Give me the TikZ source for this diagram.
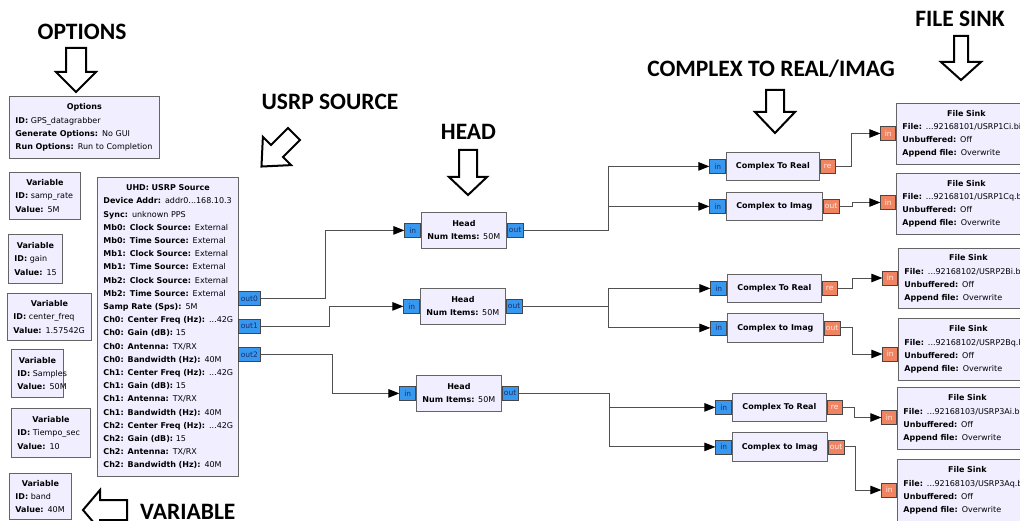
\documentclass[tikz,border=0pt]{standalone}
\usepackage{fontspec}
\setmainfont{DejaVu Sans}
\newfontfamily\calloutfont{Carlito}
\usetikzlibrary{arrows.meta}

\definecolor{blockfill}{RGB}{241,238,255}
\definecolor{blockedge}{RGB}{100,100,100}
\definecolor{cplxport}{RGB}{56,152,240}
\definecolor{cplxtext}{RGB}{25,45,105}
\definecolor{floatport}{RGB}{240,132,98}
\definecolor{floattext}{RGB}{255,238,228}
\definecolor{wirecol}{RGB}{80,80,80}

% block title (centred) and "key: value" parameter line
\newcommand\ttl[1]{{\centering\bfseries #1\par}}
\newcommand\kv[2]{\mbox{\textbf{#1:} #2}}
% hollow outlined arrow: base x, base y, rotation, shaft length, head length, shaft half-width, head half-width
\newcommand\callout[7]{\draw[callout, shift={(#1,#2)}, rotate=#3] (0,-#6) -- (#4,-#6) -- (#4,-#7) -- ({#4+#5},0) -- (#4,#7) -- (#4,#6) -- (0,#6) -- cycle;}

\tikzset{
  blk/.style={draw=blockedge, fill=blockfill, line width=0.8pt, anchor=north west,
    inner xsep=6pt, inner ysep=0pt, font=\fontsize{8}{13.2}\selectfont, align=left},
  oneline/.style={draw=blockedge, fill=blockfill, line width=0.8pt, anchor=north west,
    inner sep=0pt, font=\fontsize{8}{13.2}\selectfont\bfseries, align=center},
  cport/.style={draw=blockedge!70!black, fill=cplxport, text=cplxtext, line width=0.6pt,
    inner sep=0pt, minimum height=14pt, font=\fontsize{7.5}{9}\selectfont},
  fport/.style={draw=blockedge!70!black, fill=floatport, text=floattext, line width=0.6pt,
    inner sep=0pt, minimum height=14pt, font=\fontsize{7.5}{9}\selectfont},
  wire/.style={draw=wirecol, line width=0.9pt},
  feed/.style={wire, -{Triangle[length=11pt,width=8.5pt,color=black]}},
  callout/.style={draw=black, fill=white, line width=2pt, line join=miter},
  caption/.style={font=\calloutfont\bfseries\fontsize{23.5}{26}\selectfont, anchor=base, inner sep=0pt},
}

\begin{document}
\begin{tikzpicture}[x=1pt,y=-1pt]
\useasboundingbox (0,0) rectangle (1020,521);
\fill[white] (0,0) rectangle (1020,521);
\clip (0,0) rectangle (1020,521);

% ---------- captions and pointer arrows ----------
\node[caption] (capopt) at (82,40) {OPTIONS};
\node[caption] (capusrp) at (330,110) {USRP SOURCE};
\node[caption] (caphead) at (468.5,140) {HEAD};
\node[caption] (capcplx) at (771,77) {COMPLEX TO REAL/IMAG};
\node[caption] (capfile) at (960,27) {FILE SINK};
\node[caption, anchor=base west] (capvar) at (140,519) {VARIABLE};

\callout{76}{48}{-90}{24}{20}{10}{20}
\callout{468}{150}{-90}{27}{18}{9}{19}
\callout{775}{90}{-90}{22}{21}{9}{20}
\callout{961}{36}{-90}{26}{18}{7}{20}
\callout{127}{510}{180}{27}{17}{10}{20}
\callout{294}{134}{-135}{24}{22}{8.5}{20}

% ---------- options and variables ----------
\node[blk, text width=138pt, minimum height=62pt] (opt) at (9,96)
  {\ttl{Options}\kv{ID}{GPS\_datagrabber}\\\kv{Generate Options}{No GUI}\\\kv{Run Options}{Run to Completion}};
\node[blk, text width=59pt, minimum height=47pt] (vrate) at (9,172)
  {\ttl{Variable}\kv{ID}{samp\_rate}\\\kv{Value}{5M}};
\node[blk, text width=42pt, minimum height=49pt] (vgain) at (8,234)
  {\ttl{Variable}\kv{ID}{gain}\\\kv{Value}{15}};
\node[blk, text width=72pt, minimum height=47pt] (vfreq) at (7,293)
  {\ttl{Variable}\kv{ID}{center\_freq}\\\kv{Value}{1.57542G}};
\node[blk, text width=40pt, minimum height=48pt] (vsamp) at (11,349)
  {\ttl{Variable}\kv{ID}{Samples}\\\kv{Value}{50M}};
\node[blk, text width=67pt, minimum height=49pt] (vtime) at (11,408)
  {\ttl{Variable}\kv{ID}{Tiempo\_sec}\\\kv{Value}{10}};
\node[blk, text width=50pt, minimum height=46pt] (vband) at (9,473)
  {\ttl{Variable}\kv{ID}{band}\\\kv{Value}{40M}};

% ---------- USRP source ----------
\node[blk, text width=129pt, minimum height=299pt] (usrp) at (97,177)
  {\ttl{UHD: USRP Source}\kv{Device Addr}{addr0...168.10.3}\\\kv{Sync}{unknown PPS}\\
   \kv{Mb0: Clock Source}{External}\\\kv{Mb0: Time Source}{External}\\
   \kv{Mb1: Clock Source}{External}\\\kv{Mb1: Time Source}{External}\\
   \kv{Mb2: Clock Source}{External}\\\kv{Mb2: Time Source}{External}\\
   \kv{Samp Rate (Sps)}{5M}\\
   \kv{Ch0: Center Freq (Hz)}{...42G}\\\kv{Ch0: Gain (dB)}{15}\\\kv{Ch0: Antenna}{TX/RX}\\\kv{Ch0: Bandwidth (Hz)}{40M}\\
   \kv{Ch1: Center Freq (Hz)}{...42G}\\\kv{Ch1: Gain (dB)}{15}\\\kv{Ch1: Antenna}{TX/RX}\\\kv{Ch1: Bandwidth (Hz)}{40M}\\
   \kv{Ch2: Center Freq (Hz)}{...42G}\\\kv{Ch2: Gain (dB)}{15}\\\kv{Ch2: Antenna}{TX/RX}\\\kv{Ch2: Bandwidth (Hz)}{40M}};
\node[cport, minimum width=22pt, anchor=west] (u0) at (238,298.5) {out0};
\node[cport, minimum width=22pt, anchor=west] (u1) at (238,326) {out1};
\node[cport, minimum width=22pt, anchor=west] (u2) at (238,354.5) {out2};

% ---------- head blocks ----------
\node[oneline, minimum width=85pt, minimum height=36pt] (h1) at (421,212) {Head\\\mbox{Num Items: \mdseries 50M}};
\node[oneline, minimum width=85pt, minimum height=36pt] (h2) at (420,288) {Head\\\mbox{Num Items: \mdseries 50M}};
\node[oneline, minimum width=85pt, minimum height=36pt] (h3) at (416,375) {Head\\\mbox{Num Items: \mdseries 50M}};
\foreach \h in {h1,h2,h3}{
  \node[cport, minimum width=16pt, anchor=east] (\h i) at (\h.west) {in};
  \node[cport, minimum width=16pt, anchor=west] (\h o) at (\h.east) {out};
}

% ---------- complex to real / imag ----------
\node[oneline, minimum width=93pt, minimum height=28pt] (c1r) at (726,152) {Complex To Real};
\node[oneline, minimum width=96pt, minimum height=28pt] (c1i) at (726,192) {Complex to Imag};
\node[oneline, minimum width=94pt, minimum height=28pt] (c2r) at (727,274) {Complex To Real};
\node[oneline, minimum width=96pt, minimum height=29pt] (c2i) at (727,313) {Complex to Imag};
\node[oneline, minimum width=94pt, minimum height=28pt] (c3r) at (732,393) {Complex To Real};
\node[oneline, minimum width=95pt, minimum height=29pt] (c3i) at (732,432) {Complex to Imag};
\foreach \c in {c1,c2,c3}{
  \node[cport, minimum width=16pt, anchor=east] (\c ri) at (\c r.west) {in};
  \node[fport, minimum width=15pt, anchor=west] (\c ro) at (\c r.east) {re};
  \node[cport, minimum width=16pt, anchor=east] (\c ii) at (\c i.west) {in};
  \node[fport, minimum width=16pt, anchor=west] (\c io) at (\c i.east) {out};
}

% ---------- file sinks ----------
\node[blk, text width=128pt, minimum height=61pt] (f1) at (896,103)
  {\ttl{File Sink}\kv{File}{...92168101/USRP1Ci.bin}\\\kv{Unbuffered}{Off}\\\kv{Append file}{Overwrite}};
\node[blk, text width=128pt, minimum height=61pt] (f2) at (896,173)
  {\ttl{File Sink}\kv{File}{...92168101/USRP1Cq.bin}\\\kv{Unbuffered}{Off}\\\kv{Append file}{Overwrite}};
\node[blk, text width=128pt, minimum height=60pt] (f3) at (898,248)
  {\ttl{File Sink}\kv{File}{...92168102/USRP2Bi.bin}\\\kv{Unbuffered}{Off}\\\kv{Append file}{Overwrite}};
\node[blk, text width=128pt, minimum height=62pt] (f4) at (898,318)
  {\ttl{File Sink}\kv{File}{...92168102/USRP2Bq.bin}\\\kv{Unbuffered}{Off}\\\kv{Append file}{Overwrite}};
\node[blk, text width=128pt, minimum height=62pt] (f5) at (897,387)
  {\ttl{File Sink}\kv{File}{...92168103/USRP3Ai.bin}\\\kv{Unbuffered}{Off}\\\kv{Append file}{Overwrite}};
\node[blk, text width=128pt, minimum height=62pt] (f6) at (897,459)
  {\ttl{File Sink}\kv{File}{...92168103/USRP3Aq.bin}\\\kv{Unbuffered}{Off}\\\kv{Append file}{Overwrite}};
\node[fport, minimum width=15pt, anchor=east] (f1i) at (f1.west |- 0,133.5) {in};
\node[fport, minimum width=15pt, anchor=east] (f2i) at (f2.west |- 0,202.5) {in};
\node[fport, minimum width=15pt, anchor=east] (f3i) at (f3.west |- 0,278) {in};
\node[fport, minimum width=15pt, anchor=east] (f4i) at (f4.west |- 0,354) {in};
\node[fport, minimum width=15pt, anchor=east] (f5i) at (f5.west |- 0,417.5) {in};
\node[fport, minimum width=15pt, anchor=east] (f6i) at (f6.west |- 0,490) {in};

% ---------- connections ----------
\draw[feed] (u0.east) -- (325,0 |- u0.east) |- (h1i.west);
\draw[feed] (u1.east) -- (329,0 |- u1.east) |- (h2i.west);
\draw[feed] (u2.east) -- (332,0 |- u2.east) |- (h3i.west);

\coordinate (s1) at (608,0 |- h1o.east);
\coordinate (b1) at (s1 |- c1ii.west);
\draw[feed] (h1o.east) -- (s1) |- (c1ri.west);
\draw[feed] (b1) -- (c1ii.west);

\coordinate (s2) at (608,0 |- h2o.east);
\draw[wire] (h2o.east) -- (s2);
\draw[feed] (s2) |- (c2ri.west);
\draw[feed] (s2) |- (c2ii.west);

\coordinate (s3) at (609,0 |- h3o.east);
\coordinate (b3) at (s3 |- c3ri.west);
\draw[feed] (h3o.east) -- (s3) |- (c3ii.west);
\draw[feed] (b3) -- (c3ri.west);

\draw[feed] (c1ro.east) -- (851,0 |- c1ro.east) |- (f1i.west);
\draw[feed] (c1io.east) -- (852,0 |- c1io.east) |- (f2i.west);
\draw[feed] (c2ro.east) -- (852,0 |- c2ro.east) |- (f3i.west);
\draw[feed] (c2io.east) -- (852,0 |- c2io.east) |- (f4i.west);
\draw[feed] (c3ro.east) -- (854,0 |- c3ro.east) |- (f5i.west);
\draw[feed] (c3io.east) -- (855,0 |- c3io.east) |- (f6i.west);
\end{tikzpicture}
\end{document}
